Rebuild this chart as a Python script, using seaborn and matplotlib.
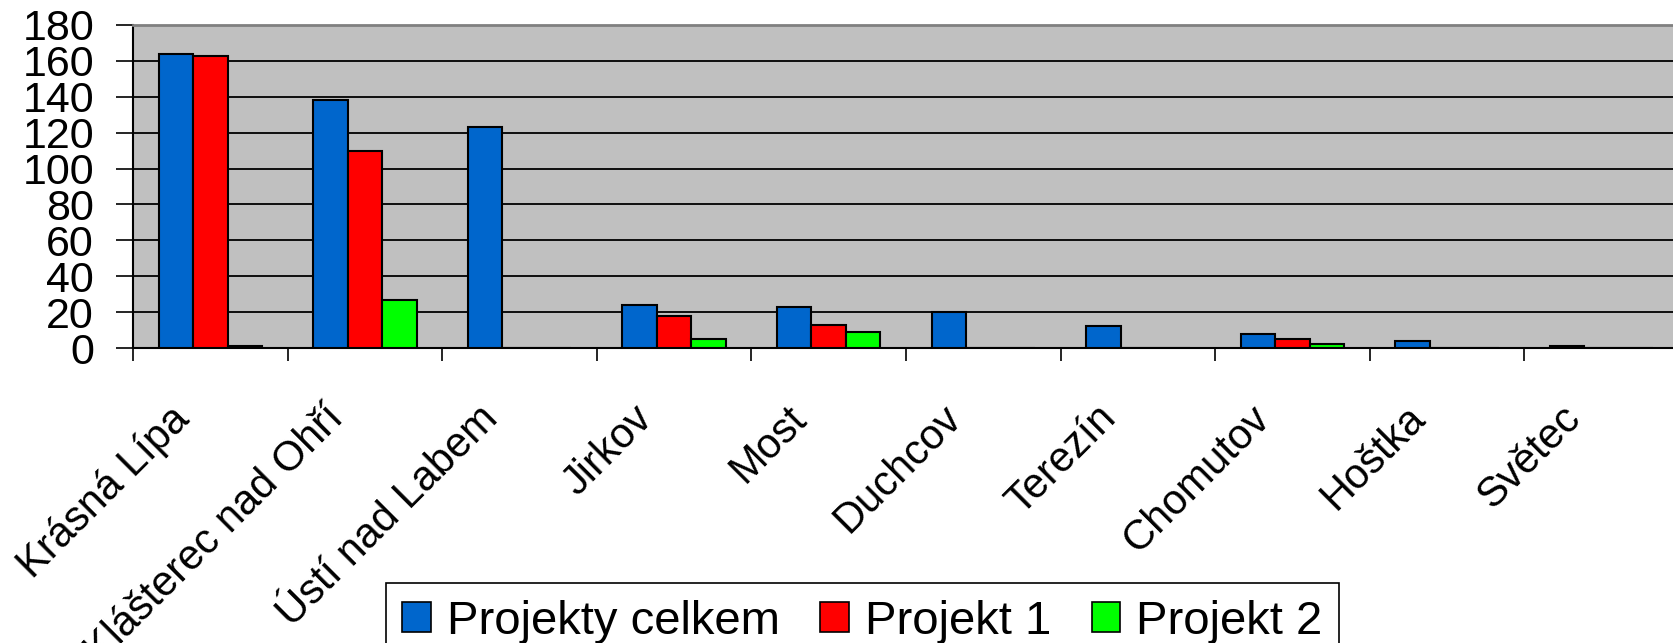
import numpy as np
import pandas as pd
import matplotlib
matplotlib.use("Agg")
import matplotlib.pyplot as plt
import matplotlib.transforms as mtransforms
from matplotlib.patches import Patch
import seaborn as sns

# data
mesta = ["Krásná Lípa", "Klášterec nad Ohří", "Ústí nad Labem", "Jirkov", "Most",
	"Duchcov", "Terezín", "Chomutov", "Hoštka", "Světec"]
projekty_celkem = [164, 138, 123, 24, 23, 20, 12, 8, 4, 1]
projekt_1 = [163, 110, 0, 18, 13, 0, 0, 5, 0, 0]
projekt_2 = [1, 27, 0, 5, 9, 0, 0, 2, 0, 0]
serie = ["Projekty celkem", "Projekt 1", "Projekt 2"]
barvy = ["#0066CC", "#FF0000", "#00FF00"]
y_ticks = list(range(0, 181, 20))

sns.set_style("white")
plt.rcParams["font.family"] = ["Liberation Sans", "DejaVu Sans"]
plt.rcParams["text.color"] = "black"
plt.rcParams["xtick.color"] = "black"
plt.rcParams["ytick.color"] = "black"

df = pd.DataFrame({"mesto": mesta * 3,
	"pocet": projekty_celkem + projekt_1 + projekt_2,
	"serie": [s for s in serie for _ in mesta]})

fig = plt.figure(figsize = (16.73, 6.43), dpi = 100)
ax = fig.add_axes([133 / 1673, 1 - 348 / 643, 1546 / 1673, 323 / 643])
ax.set_facecolor("#C0C0C0")

sns.barplot(data = df, x = "mesto", y = "pocet", hue = "serie", hue_order = serie,
	palette = barvy, width = 0.67, edgecolor = "black", linewidth = 1.5,
	saturation = 1, legend = False, ax = ax, zorder = 3)

ax.set_ylim(0, 180)
ax.set_xlim(-0.5, len(mesta) - 0.5)
ax.set_yticks(y_ticks)
ax.yaxis.grid(True, color = "black", linewidth = 1.3, zorder = 1)
ax.set_axisbelow(True)
ax.set_xlabel("")
ax.set_ylabel("")

# spines
for side in ["left", "bottom"]:
	ax.spines[side].set_color("black")
	ax.spines[side].set_linewidth(1.5)
ax.spines["top"].set_color("#808080")
ax.spines["top"].set_linewidth(2)
ax.spines["right"].set_visible(False)

ax.tick_params(axis = "y", direction = "out", length = 12, width = 1.2,
	labelsize = 31, pad = 16, left = True, labelcolor = "black")

# category boundaries as minor ticks, labels at centres
ax.set_xticks(np.arange(-0.5, len(mesta), 1), minor = True)
ax.tick_params(axis = "x", which = "minor", direction = "out", length = 9,
	width = 1.2, bottom = True)
ax.tick_params(axis = "x", which = "major", length = 0, pad = 36, labelsize = 30,
	labelcolor = "black")
ax.set_xticks(range(len(mesta)))
ax.set_xticklabels(mesta, rotation = 45, ha = "right", va = "top",
	rotation_mode = "anchor")
posun = mtransforms.ScaledTranslation(-0.42, 0, fig.dpi_scale_trans)
for lbl in ax.get_xticklabels():
	lbl.set_transform(lbl.get_transform() + posun)

handles = [Patch(facecolor = c, edgecolor = "black", linewidth = 1.2) for c in barvy]
leg = fig.legend(handles, serie, loc = "upper center",
	bbox_to_anchor = (0.5155, 1 - 583 / 643), ncol = 3, fontsize = 34,
	frameon = True, fancybox = False, edgecolor = "black", framealpha = 1,
	handlelength = 0.6, handleheight = 0.6, handletextpad = 0.35,
	columnspacing = 0.85, borderpad = 0.35, borderaxespad = 0)
leg.get_frame().set_linewidth(1.2)

fig.savefig("out.png", dpi = 100)
